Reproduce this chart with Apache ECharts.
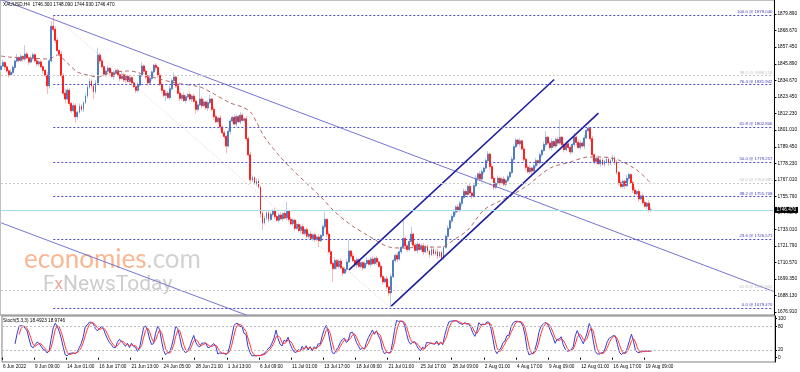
<!DOCTYPE html>
<html><head><meta charset="utf-8">
<script src="https://cdn.jsdelivr.net/npm/echarts@6/dist/echarts.min.js"></script>
<style>html,body{margin:0;padding:0;background:#fff}#c{width:800px;height:372px}</style>
</head><body><div id="c"></div>
<script>
// ---------- data ----------
const firstOpen = 1842.0;
const closes = [
1844.5,1846.8,1843.9,1841.2,1838.5,1840.1,1843.6,1847.9,1850.2,1848.4,1851.0,1849.3,1852.6,1850.1,1847.2,1849.8,1852.1,1848.0,1845.9,1847.3,
1844.0,1841.5,1838.2,1831.0,1848.0,1871.5,1869.5,1862.0,1855.0,1852.5,1838.0,1826.0,1822.0,1828.0,1819.0,1814.0,1817.5,1810.0,1813.0,1817.0,
1815.0,1819.5,1824.0,1830.0,1834.0,1831.0,1827.0,1833.0,1852.0,1848.0,1844.0,1839.0,1841.0,1843.0,1840.0,1837.5,1839.5,1841.5,1838.5,1836.0,
1838.5,1835.0,1837.5,1834.0,1836.5,1833.0,1830.5,1828.0,1831.5,1838.0,1844.5,1841.0,1837.0,1833.0,1836.0,1840.5,1845.0,1843.5,1838.0,1832.0,
1828.0,1824.5,1826.0,1823.0,1829.0,1834.5,1837.0,1831.0,1826.0,1822.5,1824.5,1821.0,1823.5,1825.0,1822.0,1824.0,1820.5,1815.0,1818.0,1822.0,
1817.5,1820.0,1816.0,1819.5,1822.0,1815.0,1810.0,1806.5,1809.0,1803.0,1799.0,1796.5,1790.0,1800.0,1807.0,1809.5,1805.0,1810.0,1806.5,1811.0,
1807.5,1808.5,1795.0,1784.0,1767.0,1768.5,1764.5,1766.0,1762.0,1744.0,1737.5,1741.0,1744.5,1740.0,1743.5,1746.0,1742.0,1739.5,1743.0,1740.5,
1744.0,1741.0,1745.5,1740.0,1737.0,1739.5,1734.0,1736.5,1732.5,1735.0,1730.5,1733.0,1728.5,1730.0,1727.0,1729.5,1726.5,1728.0,1725.5,1729.0,
1735.0,1740.0,1730.0,1718.0,1710.0,1706.5,1712.0,1708.0,1711.5,1707.0,1703.5,1706.0,1711.0,1718.5,1715.0,1712.0,1709.0,1712.5,1708.0,1710.5,
1707.0,1710.0,1712.0,1709.5,1713.0,1710.0,1713.5,1711.0,1708.0,1701.0,1697.5,1699.5,1694.0,1690.0,1701.0,1712.0,1715.5,1713.0,1718.0,1721.0,
1727.0,1722.0,1719.5,1725.0,1730.0,1722.5,1719.0,1723.0,1719.5,1722.0,1718.0,1721.5,1718.5,1716.0,1719.5,1716.5,1718.0,1715.0,1717.5,1714.0,
1721.0,1728.5,1734.0,1739.0,1742.0,1745.0,1748.5,1746.0,1751.0,1755.0,1759.0,1757.0,1762.5,1758.0,1756.0,1763.0,1768.0,1771.0,1767.5,1772.5,
1775.0,1780.0,1784.5,1776.0,1768.0,1762.0,1764.5,1768.0,1765.0,1767.5,1764.0,1766.5,1769.0,1772.0,1781.0,1789.5,1794.0,1791.5,1793.5,1788.0,
1781.0,1775.5,1772.5,1775.0,1773.0,1776.5,1780.0,1778.5,1784.0,1787.0,1791.0,1796.0,1792.0,1789.0,1793.0,1790.0,1794.5,1792.0,1796.0,1791.0,
1787.5,1791.5,1789.0,1786.0,1791.0,1796.0,1792.5,1789.0,1792.0,1790.0,1795.5,1800.5,1802.0,1795.0,1784.0,1779.5,1781.5,1778.0,1780.5,1777.5,
1779.5,1781.0,1778.5,1780.0,1782.0,1779.0,1772.0,1765.0,1762.5,1766.0,1763.0,1768.0,1770.5,1765.0,1760.0,1757.5,1759.0,1754.0,1756.0,1751.5,
1749.0,1751.0,1746.3,1746.47];
const wickUp = [
1.5,2,1,1.5,1,2,1.5,1,2.5,1,2,1,6,1.5,1,2,1.5,1,2,1,
1.5,1,1,2,1.5,3.5,7.5,2,1.5,1,2,1.5,3,2,1.5,1,2,1.5,1,2,
1.5,1,2,1.5,2,1.5,1,2,5,1.5,2,1,1.5,2,1,1.5,2,1,1.5,1,
2,1,1.5,1,2,1.5,1,1.5,2,1.5,2.5,1,1.5,1,2,1,1,1.5,1,2,
1.5,1,2,1.5,2,1.5,3,1,2,1.5,1,2,1.5,1,2,1,1.5,2,1,11,
1.5,2,1,1.5,3,1,2,1.5,1,2,1,1.5,1,2,1.5,1,2,1.5,1,2,
1.5,1,2,1.5,2,1.5,1,2,1.5,1,2,1.5,1,2,1.5,1,2,1,1.5,2,
1,1.5,6.5,1,2,1.5,1,2,1,1.5,2,1,1.5,1,2,1,1.5,1,2,1,
1.5,5,1,2,1.5,1,2,1,1.5,2,1,1.5,2,7.5,1,2,1,1.5,1,2,
1,1.5,2,1,1.5,2,1,1.5,1,2,1,1.5,2,1,2,1.5,1,2,1.5,1,
12,1.5,1,2,5,1,1.5,2,1,1.5,2,1,1.5,1,2,1,1.5,2,1,1.5,
1,1.5,2,1,1.5,2,1,2,1.5,1,2,1.5,1,2,1,1.5,2,1,2,1.5,
1,1.5,2,1,2,1.5,1,2,1,1.5,2,1,1.5,1,2,1.5,1.5,1,2,1,
2,1,1.5,2,1,1.5,2,1,1.5,1,2,4,1,1.5,2,1,1.5,2,11.5,1,
1.5,2,1,1.5,1,3,1,2,1.5,1,2,1.5,1.5,1,2,1,1.5,2,1,1.5,
1,2,1.5,1,2,1,1.5,1,2,1.5,1,2,1.5,1,1.5,2,1,1.5,1,2,
1.5,1,2,1.62];
const wickDn = [
1.5,1,2,1.5,2,1,1.5,2,1,1.5,1,2,1.5,1,2,1,1.5,1,2,1.5,
1,2,1.5,5.5,2,1,1.5,2,1,1.5,2,1.5,3,1,2,1.5,1,4.4,2,1,
1.5,2,1,1.5,1,2,5,1.5,1,2,1,1.5,2,1,1.5,1,2,1,1.5,2,
1,1.5,2,1,1.5,2,1,2,1.5,1,1,2,1.5,2,1,1.5,1,2,1.5,1,
2,1.5,4,1,1.5,1,2,1.5,1,2,1.5,1,2,1,1.5,2,1,3,1.5,1,
2,1,1.5,2,1,1.5,2,1,1.5,2,1,1.5,5,1,2,1.5,1,2,1,1.5,
1,2,1.5,1,2,1.5,1,2,1,3,4.7,1,1.5,2,1,1.5,2,1,1.5,1,
2,1,1.5,2,1,1.5,2,1,1.5,2,1,1.5,1,2,1,1.5,2,1,4.5,1,
1,1.5,2,1,1.5,9,1,2,1.5,1,2,1,1.5,1,2,1,1.5,2,1,1.5,
2,1,1.5,1,2,1,1.5,2,1,1.5,2,1,1.5,2,10,1,1.5,2,1,1.5,
1,2,1.5,1,2,1.5,1,2,1,1.5,2,1,1.5,2,1,1.5,1,2,1,2,
1.5,1,2,1,1.5,1,2,1.5,1,2,1,1.5,2,1,2,1.5,1,2,1,1.5,
2,1,1.5,2,1,2,1.5,1,2,1,1.5,2,1,1.5,1,2,1,1.5,2,1,
1.5,2,1,1.5,2,1,1.5,2,1,1.5,1,2,1,1.5,2,1,1.5,2,1,1.5,
2,1,1.5,2,1,1.5,2,1,1.5,1,2,1,1.5,2,1,2,1.5,1,2,1,
1.5,1,2,1.5,1,2,1.5,2,1,1.5,2,1,1.5,1,2,1.5,1,2,1,1.5,
1,2,1.5,1.37];
const timeLabels = ["6 Jun 2022","9 Jun 09:00","14 Jun 01:00","16 Jun 17:00","21 Jun 13:00","24 Jun 05:00","28 Jun 21:00","1 Jul 13:00","6 Jul 09:00","11 Jul 01:00","13 Jul 17:00","18 Jul 09:00","21 Jul 01:00","25 Jul 17:00","28 Jul 09:00","2 Aug 01:00","4 Aug 17:00","9 Aug 09:00","12 Aug 01:00","16 Aug 17:00","19 Aug 09:00"];
const barsPerLabel = 16;
const totalSlots = 385;
const priceTicks = [1879.89,1868.67,1857.45,1845.89,1834.67,1823.45,1812.23,1801.01,1789.45,1778.23,1767.01,1755.79,1744.57,1733.01,1721.79,1710.57,1699.35,1688.13,1676.91];
const priceMin = 1674.91, priceMax = 1889.46;
const maIdx = [0,4,14,24,28,33,38,43,48,54,63,67,77,87,99,105,114,120,124,127,131,138,145,159,166,174,182,193,200,210,219,225,232,240,247,254,262,273,283,292,299,307,316,323];
const maVal = [1851.3,1850.6,1849.9,1849.3,1852.0,1846.5,1840.4,1838.4,1837.0,1839.7,1841.1,1840.4,1836.3,1832.9,1830.2,1826.1,1819.3,1816.6,1813.2,1806.4,1796.1,1783.9,1773.7,1755.3,1745.1,1736.2,1729.4,1721.2,1720.5,1721.2,1721.2,1726.0,1732.8,1746.4,1751.9,1756.6,1763.5,1775.0,1779.1,1782.5,1782.5,1780.5,1773.7,1764.8];
const fibBlueLevels = [100.0,76.4,61.8,50.0,38.2,23.6,0.0];
const fibBluePrices = [1879.040,1831.942,1802.806,1779.257,1755.708,1726.571,1679.470];
const fibGrayLevels = [38.2,50.0,61.8];
const fibGrayPrices = [1838.118,1764.985,1691.852];
const fibStartIdx = 26, lineEndIdx = 384;
const lastPrice = 1746.47;
const thinLines = [[0,1889.75,384,1690.98],[0,1737.7,124,1673.8]];
const channelLines = [[173,1705.6,275,1835.3],[194,1681.0,297,1812.4]];
const fibConnector = [26,1879.04,194,1679.47];
const stochLevels = [20,80];
const stochTicks = [0,20,80,100];
const headerText = "XAUUSD,H4  1746.300 1748.090 1744.930 1746.470";
const stochTitle = "Stoch(5,3,3) 18.4923 18.9746";

// ---------- build ----------
const cats = []; for (let i=0;i<totalSlots;i++) cats.push(String(i));
const full=[], bodies=[]; let prev=firstOpen; const highs=[], lows=[];
closes.forEach((c,i)=>{const o=prev; const h=Math.max(o,c)+wickUp[i]; const l=Math.min(o,c)-wickDn[i];
  full.push([o,c,l,h]); bodies.push([o,c,Math.min(o,c),Math.max(o,c)]); highs.push(h); lows.push(l); prev=c;});
// Stochastic (5,3,3)
const num=[],den=[],K=[],D=[];
for (let i=0;i<closes.length;i++){
  if(i>=4){let hh=-1e9,ll=1e9;for(let j=i-4;j<=i;j++){hh=Math.max(hh,highs[j]);ll=Math.min(ll,lows[j]);}num[i]=closes[i]-ll;den[i]=hh-ll;}
  if(i>=6){let a=0,b=0;for(let j=i-2;j<=i;j++){a+=num[j];b+=den[j];}K[i]=b?a/b*100:50;} else K[i]=null;
  if(i>=8){D[i]=(K[i]+K[i-1]+K[i-2])/3;} else D[i]=null;
}
const F='Liberation Sans', FS=4.7;
const seg=(a,color,w,type)=>({type:'line',xAxisIndex:0,yAxisIndex:0,data:[[a[0],a[1]],[a[2],a[3]]],symbol:'none',silent:true,
  lineStyle:{color:color,width:w,type:type||'solid'},z:4,clip:true});
const fibMarks=[];
fibBlueLevels.forEach((lv,i)=>fibMarks.push([{coord:[fibStartIdx,fibBluePrices[i]],lineStyle:{color:'#4b4bc6',type:[2,2],width:1},
  label:{formatter:lv.toFixed(1)+' @ '+fibBluePrices[i].toFixed(3),color:'#3c3cb8'}},{coord:[lineEndIdx,fibBluePrices[i]]}]));
fibGrayLevels.forEach((lv,i)=>fibMarks.push([{coord:[0,fibGrayPrices[i]],lineStyle:{color:'#cacaca',type:[2,2],width:1},
  label:{formatter:lv.toFixed(1)+' @ '+fibGrayPrices[i].toFixed(3),color:'#c0c0c0'}},{coord:[lineEndIdx,fibGrayPrices[i]]}]));

const chart = echarts.init(document.getElementById('c'),null,{renderer:'canvas'});
chart.setOption({
  animation:false, backgroundColor:'#fff',
  textStyle:{fontFamily:F},
  grid:[{left:0,right:25,top:0,height:315,show:true,borderColor:'#808080',borderWidth:1},
        {left:0,right:25,top:316,height:46,show:true,borderColor:'#808080',borderWidth:1}],
  xAxis:[{type:'category',data:cats,gridIndex:0,axisLine:{show:false},axisTick:{show:false},axisLabel:{show:false},splitLine:{show:false}},
         {type:'category',data:cats,gridIndex:1,axisLine:{show:false},
          axisTick:{show:true,length:2,interval:(i)=>i%barsPerLabel===0&&i/barsPerLabel<timeLabels.length,lineStyle:{color:'#000'}},
          axisLabel:{interval:(i)=>i%barsPerLabel===0&&i/barsPerLabel<timeLabels.length,formatter:(v)=>{const i=+v;return timeLabels[i/barsPerLabel]||'';},
            fontSize:FS,color:'#000',align:'left',margin:2,fontFamily:F},splitLine:{show:false}}],
  yAxis:[{type:'value',gridIndex:0,position:'right',min:priceMin,max:priceMax,splitLine:{show:false},
          axisLine:{show:true,lineStyle:{color:'#000'}},
          axisTick:{show:true,customValues:priceTicks,length:2,lineStyle:{color:'#000'}},
          axisLabel:{customValues:priceTicks,formatter:(v)=>v.toFixed(3),fontSize:FS,color:'#000',margin:3,fontFamily:F}},
         {type:'value',gridIndex:1,position:'right',min:-11,max:107,splitLine:{show:false},
          axisLine:{show:true,lineStyle:{color:'#000'}},
          axisTick:{show:true,customValues:stochTicks,length:2,lineStyle:{color:'#000'}},
          axisLabel:{customValues:stochTicks,fontSize:FS,color:'#000',margin:3,fontFamily:F}}],
  series:[
    {type:'candlestick',xAxisIndex:0,yAxisIndex:0,data:full,barWidth:1.4,silent:true,z:2,
     itemStyle:{color:'#b8cde6',color0:'#ffb6b6',borderColor:'#b8cde6',borderColor0:'#ffb6b6',borderWidth:1},
     markLine:{silent:true,symbol:'none',animation:false,
       label:{position:'insideEndTop',fontSize:4.3,distance:1,fontFamily:F},
       data:fibMarks.concat([[{coord:[0,lastPrice],lineStyle:{color:'#a9dcec',type:'solid',width:1},
          label:{position:'end',formatter:lastPrice.toFixed(3),color:'#fff',backgroundColor:'#000',padding:[1,2,0,2],fontSize:FS,distance:1}},
          {coord:[lineEndIdx,lastPrice]}]])}},
    {type:'candlestick',xAxisIndex:0,yAxisIndex:0,data:bodies,barWidth:1.4,silent:true,z:3,
     itemStyle:{color:'#4f7fc0',color0:'#ff2020',borderColor:'#4f7fc0',borderColor0:'#ff2020',borderWidth:1}},
    {type:'line',xAxisIndex:0,yAxisIndex:0,data:maIdx.map((x,i)=>[x,maVal[i]]),symbol:'none',smooth:0.3,silent:true,z:4,
     lineStyle:{color:'#b06a66',width:1,type:[4,3]}},
    seg(fibConnector,'#f0c4c4',1,[1,2]),
    seg(thinLines[0],'#7474d4',1),
    seg(thinLines[1],'#7474d4',1),
    seg(channelLines[0],'#1e1ea0',1.6),
    seg(channelLines[1],'#1e1ea0',1.6),
    {type:'line',xAxisIndex:1,yAxisIndex:1,data:K,symbol:'none',silent:true,lineStyle:{color:'#3a3ad0',width:1},z:3,
     markLine:{silent:true,symbol:'none',label:{show:false},lineStyle:{color:'#bdbdbd',type:[2,2],width:1},data:stochLevels.map(v=>({yAxis:v}))}},
    {type:'line',xAxisIndex:1,yAxisIndex:1,data:D,symbol:'none',silent:true,lineStyle:{color:'#ff3a3a',width:1},z:3}
  ],
  graphic:[
    {type:'text',left:3,top:2,z:10,style:{text:headerText,fontSize:FS,fill:'#000',fontFamily:F}},
    {type:'text',left:3,top:318,z:10,style:{text:stochTitle,fontSize:FS,fill:'#000',fontFamily:F}},
    {type:'text',left:24,top:247,z:1,style:{text:'{a|economies}{b|.com}',fontFamily:'Lato',
      rich:{a:{fill:'#f9b893',fontSize:26,fontFamily:'Lato'},b:{fill:'#d2d2d2',fontSize:26,fontFamily:'Lato'}}}},
    {type:'text',left:43,top:274,z:1,style:{text:'{a|F}{b|x}{a|NewsToday}',fontFamily:'Roboto',
      rich:{a:{fill:'#cdcdcd',fontSize:21,fontFamily:'Roboto'},b:{fill:'#e9a8a0',fontSize:17,fontFamily:'Roboto'}}}}
  ]
});
</script></body></html>
